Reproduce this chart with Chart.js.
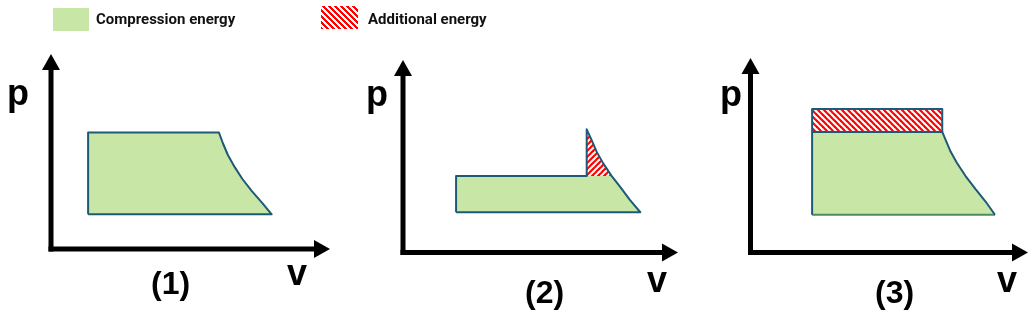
<!DOCTYPE html>
<html>
<head>
<meta charset="utf-8">
<script src="https://cdn.jsdelivr.net/npm/chart.js@4.4.1/dist/chart.umd.min.js"></script>
<style>
  body { margin: 0; background: #fff; }
  #wrap { position: relative; width: 1033px; height: 310px; overflow: hidden; font-family: "Liberation Sans", Arial, sans-serif; }
  #wrap canvas { position: absolute; left: 0; top: 0; }
  .lbl { position: absolute; font-weight: bold; line-height: 1; color: #000; white-space: nowrap; }
  .leg-box { position: absolute; }
  .leg-txt { position: absolute; font-family: Roboto, sans-serif; font-weight: 700; font-size: 15px; line-height: 1; color: #111; white-space: nowrap; }
</style>
</head>
<body>
<div id="wrap">
  <canvas id="c1" width="1033" height="310"></canvas>
  <canvas id="c2" width="1033" height="310"></canvas>
  <canvas id="c3" width="1033" height="310"></canvas>
</div>
<script>
// Dados (v e p em unidades do eixo, 0..10)
const legendLabels = ['Compression energy', 'Additional energy'];
const panelLabels = ['(1)', '(2)', '(3)'];
const axisLabels = ['p', 'v'];

// (1)
const green1V = [1.33, 6.02, 6.165, 6.34, 6.58, 6.86, 7.20, 7.56, 7.91];
const green1P = [5.97, 5.97, 5.41, 4.82, 4.21, 3.59, 2.97, 2.38, 1.78];
const base1P = 1.78;

// (2)
const green2V = [1.93, 7.59, 7.89, 8.25, 8.63];
const green2P = [3.97, 3.97, 3.42, 2.73, 2.09];
const extra2V = [6.68, 6.86, 7.04, 7.28, 7.59];
const extra2P = [6.40, 5.84, 5.24, 4.63, 3.97];
const base2P = 2.09;

// (3)
const green3V = [2.22, 6.91, 7.05, 7.21, 7.44, 7.75, 8.11, 8.47, 8.81];
const green3P = [6.20, 6.20, 5.73, 5.19, 4.60, 3.93, 3.26, 2.62, 1.94];
const extra3V = [2.22, 6.91];
const extra3P = [7.38, 7.38];
const base3P = 1.94;

// Cores
const verde = '#c8e6a6';
const contorno = '#1d5a78';
const verdeEscuro = '#4f8a5e';

// Funções auxiliares
function pts(v, p) {
    return v.map((x, i) => ({ x: x, y: p[i] }));
}

function criarHachura(ctx, direcao) {
    const c = document.createElement('canvas');
    c.width = 6; c.height = 6;
    const g = c.getContext('2d');
    g.fillStyle = '#fff';
    g.fillRect(0, 0, 6, 6);
    g.strokeStyle = '#ff0000';
    g.lineWidth = 2.2;
    [-6, 0, 6].forEach(d => {
        g.beginPath();
        if (direcao === '\\') { g.moveTo(d - 1, -1); g.lineTo(d + 7, 7); }
        else { g.moveTo(d - 1, 7); g.lineTo(d + 7, -1); }
        g.stroke();
    });
    return ctx.createPattern(c, 'repeat');
}

function preenchido(data, base, cor) {
    return { data: data, fill: { value: base }, backgroundColor: cor,
             borderColor: 'rgba(0,0,0,0)', borderWidth: 0, showLine: true, pointRadius: 0 };
}

function linha(data, cor) {
    return { data: data, fill: false, borderColor: cor, borderWidth: 2,
             showLine: true, pointRadius: 0, borderJoinStyle: 'round' };
}

// Eixos com setas
const eixosPlugin = {
    id: 'eixos',
    beforeDatasetsDraw(chart) {
        const { ctx, scales: { x, y } } = chart;
        const ox = x.getPixelForValue(0), oy = y.getPixelForValue(0);
        const tx = x.getPixelForValue(10), ty = y.getPixelForValue(10);
        const w = 5, len = 16, half = 9;
        ctx.save();
        ctx.fillStyle = '#000';
        ctx.fillRect(ox - w / 2, ty + len - 1, w, oy + w / 2 - (ty + len - 1));
        ctx.fillRect(ox - w / 2, oy - w / 2, tx - len + 1 - (ox - w / 2), w);
        ctx.beginPath();
        ctx.moveTo(ox, ty); ctx.lineTo(ox - half, ty + len); ctx.lineTo(ox + half, ty + len);
        ctx.closePath(); ctx.fill();
        ctx.beginPath();
        ctx.moveTo(tx, oy); ctx.lineTo(tx - len, oy - half); ctx.lineTo(tx - len, oy + half);
        ctx.closePath(); ctx.fill();
        ctx.restore();
    }
};

function criarGrafico(id, pad, datasets) {
    return new Chart(document.getElementById(id), {
        type: 'scatter',
        data: { datasets: datasets },
        options: {
            responsive: false,
            animation: false,
            devicePixelRatio: 1,
            layout: { padding: pad },
            scales: {
                x: { type: 'linear', min: 0, max: 10, display: false },
                y: { type: 'linear', min: 0, max: 10, display: false }
            },
            plugins: { legend: { display: false }, tooltip: { enabled: false } },
            events: []
        },
        plugins: [eixosPlugin]
    });
}

// (1)
const contorno1 = [{ x: green1V[0], y: base1P }, ...pts(green1V, green1P), { x: green1V[0], y: base1P }];
criarGrafico('c1', { left: 51, right: 703, top: 54, bottom: 61 }, [
    linha(contorno1, contorno),
    preenchido(pts(green1V, green1P), base1P, verde)
]);

// (2)
const ctx2 = document.getElementById('c2').getContext('2d');
const contorno2 = [
    { x: green2V[0], y: base2P },
    { x: green2V[0], y: green2P[0] },
    { x: extra2V[0], y: green2P[0] },
    ...pts(extra2V, extra2P),
    ...pts(green2V.slice(2), green2P.slice(2)),
    { x: green2V[0], y: base2P }
];
criarGrafico('c2', { left: 403, right: 355, top: 60, bottom: 57.5 }, [
    linha(contorno2, contorno),
    preenchido(pts(extra2V, extra2P), green2P[0], criarHachura(ctx2, '/')),
    preenchido(pts(green2V, green2P), base2P, verde)
]);

// (3)
const ctx3 = document.getElementById('c3').getContext('2d');
const retangulo3 = [
    { x: extra3V[0], y: green3P[0] }, { x: extra3V[0], y: extra3P[0] },
    { x: extra3V[1], y: extra3P[1] }, { x: extra3V[1], y: green3P[0] },
    { x: extra3V[0], y: green3P[0] }
];
criarGrafico('c3', { left: 750.5, right: 5, top: 58, bottom: 57.5 }, [
    linha(retangulo3, contorno),
    linha([{ x: green3V[0], y: base3P }, { x: green3V[0], y: green3P[0] }], contorno),
    linha(pts(green3V.slice(1), green3P.slice(1)), contorno),
    linha([{ x: green3V[0], y: base3P }, { x: green3V[green3V.length - 1], y: base3P }], verdeEscuro),
    preenchido(pts(extra3V, extra3P), green3P[0], criarHachura(ctx3, '\\')),
    preenchido(pts(green3V, green3P), base3P, verde)
]);

// Textos
const wrap = document.getElementById('wrap');
function texto(t, cls, left, top, size) {
    const d = document.createElement('div');
    d.className = cls;
    d.textContent = t;
    d.style.left = left + 'px';
    d.style.top = top + 'px';
    if (size) d.style.fontSize = size + 'px';
    wrap.appendChild(d);
}
function caixa(left, top, w, h, bg) {
    const d = document.createElement('div');
    d.className = 'leg-box';
    d.style.cssText += `left:${left}px;top:${top}px;width:${w}px;height:${h}px;background:${bg};`;
    wrap.appendChild(d);
}

// Legenda
caixa(53, 8, 36, 23, verde);
texto(legendLabels[0], 'leg-txt', 96, 12.4);
caixa(321, 6, 37, 23, 'repeating-linear-gradient(45deg, #ff0000 0 2px, #fff 2px 4.2px)');
texto(legendLabels[1], 'leg-txt', 368, 12.4);

// Rótulos dos eixos e dos painéis
[[7, 75], [366, 76], [720, 76]].forEach(([l, t]) => texto(axisLabels[0], 'lbl', l, t, 36));
[[287, 254.5], [647, 261.5], [997, 261.5]].forEach(([l, t]) => texto(axisLabels[1], 'lbl', l, t, 36));
[[151, 267], [525, 276], [875, 276]].forEach(([l, t], i) => texto(panelLabels[i], 'lbl', l, t, 32));
</script>
</body>
</html>
